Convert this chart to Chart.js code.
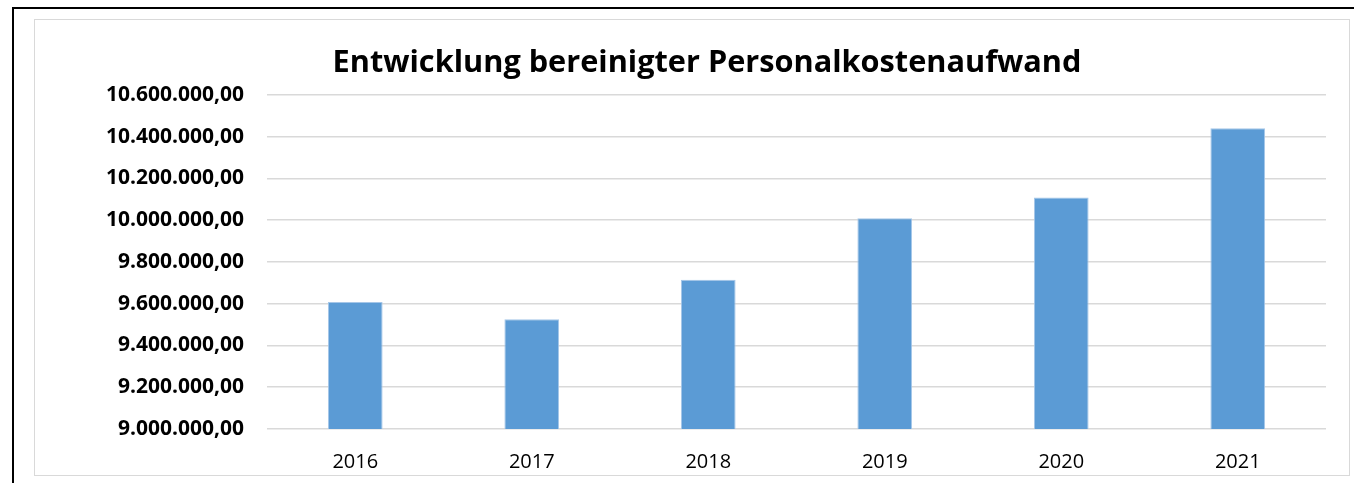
<!DOCTYPE html>
<html>
<head>
<meta charset="utf-8">
<script src="https://cdn.jsdelivr.net/npm/chart.js@4/dist/chart.umd.min.js"></script>
<style>
  html, body { margin: 0; padding: 0; background: #fff; overflow: hidden; }
  #wrap { position: relative; width: 1354px; height: 483px; }
  #c { position: absolute; left: 0; top: 0; }
  .line { position: absolute; background: #000; }
  #frame { position: absolute; left: 34px; top: 19px; width: 1316px; height: 457px; border: 1px solid #d9d9d9; box-sizing: border-box; pointer-events: none; }
</style>
</head>
<body>
<div id="wrap">
  <canvas id="c" width="1354" height="483"></canvas>
  <div class="line" style="left:12px; top:7px; width:1342px; height:2px;"></div>
  <div class="line" style="left:12px; top:7px; width:2px; height:476px;"></div>
  <div id="frame"></div>
</div>
<script>
const categories = ['2016', '2017', '2018', '2019', '2020', '2021'];
const values = [9608000, 9525000, 9715000, 10009000, 10108000, 10440000];
const titleText = 'Entwicklung bereinigter Personalkostenaufwand';
const yMin = 9000000;
const yMax = 10600000;
const yStep = 200000;

const fmt = new Intl.NumberFormat('de-DE', { minimumFractionDigits: 2, maximumFractionDigits: 2 });

new Chart(document.getElementById('c'), {
  type: 'bar',
  data: {
    labels: categories,
    datasets: [{
      data: values,
      backgroundColor: '#5b9bd5',
      borderColor: '#a5c6e8',
      borderWidth: 1,
      barPercentage: 0.31,
      categoryPercentage: 1.0
    }]
  },
  options: {
    responsive: false,
    animation: false,
    layout: { padding: { left: 88, right: 28, top: 0, bottom: 0 } },
    plugins: {
      legend: { display: false },
      tooltip: { enabled: false },
      title: {
        display: true,
        text: titleText,
        color: '#000',
        font: { family: 'Open Sans', size: 30.7, weight: 'bold' },
        padding: { top: 45, bottom: 13 }
      }
    },
    scales: {
      x: {
        afterFit: (s) => { s.height = 54; },
        grid: { display: false },
        border: { display: false },
        ticks: {
          color: '#000',
          font: { family: 'Open Sans', size: 20 },
          padding: 13,
          maxRotation: 0
        }
      },
      y: {
        min: yMin,
        max: yMax,
        afterFit: (s) => { s.width = 179; },
        grid: { color: '#d9d9d9', lineWidth: 1.5, drawTicks: false },
        border: { display: false },
        ticks: {
          stepSize: yStep,
          color: '#000',
          padding: 23,
          font: { family: 'Open Sans', size: 21, weight: 'bold' },
          callback: (v) => fmt.format(v)
        }
      }
    }
  }
});
</script>
</body>
</html>
